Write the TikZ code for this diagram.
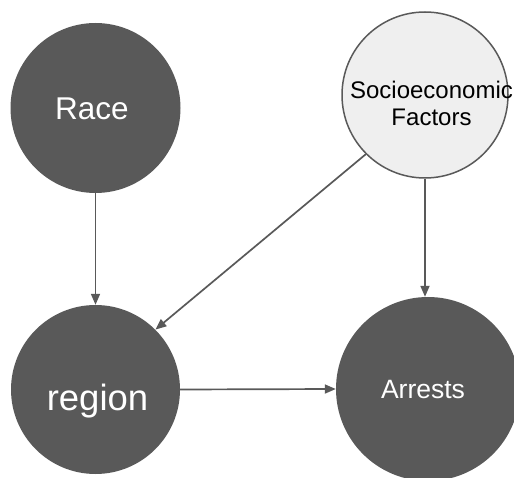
\documentclass[tikz,border=0pt]{standalone}
\usepackage{fontspec}
\setmainfont{Liberation Sans}
\usetikzlibrary{arrows.meta}
\definecolor{nodegray}{HTML}{595959}
\definecolor{lightfill}{HTML}{EFEFEF}
\begin{document}
\begin{tikzpicture}[x=1pt,y=-1pt,
  darknode/.style={circle,fill=nodegray,draw=none,inner sep=0pt},
  lightnode/.style={circle,fill=lightfill,draw=nodegray,line width=1.5pt,inner sep=0pt},
  lbl/.style={inner sep=0pt,align=center},
  edge/.style={draw=nodegray,line width=1.7pt,-{Triangle[length=11pt,width=9pt]}}]
  \useasboundingbox (0,0) rectangle (514,478);
  \begin{scope}
    \clip (0,0) rectangle (514,478);
    % variables
    \node[darknode,minimum size=170pt] (race) at (95.5,108) {};
    \node[lightnode,minimum size=166pt] (socio) at (425,95) {};
    \node[darknode,minimum size=169pt] (region) at (95.5,389.5) {};
    \node[darknode,minimum size=184pt] (arrests) at (428,389) {};
  \end{scope}
  % labels
  \node[lbl,text=white,font=\fontsize{31.5}{34}\selectfont] (raceT) at (92,109) {Race};
  \node[lbl,text=black,font=\fontsize{24}{27}\selectfont] (socioT) at (431.5,103) {Socioeconomic\\Factors};
  \node[lbl,text=white,font=\fontsize{36.5}{40}\selectfont] (regionT) at (97.5,401) {region};
  \node[lbl,text=white,font=\fontsize{26.5}{30}\selectfont] (arrestsT) at (423,390) {Arrests};
  % causal links
  \draw[edge] (race.south) -- (region.north);
  \draw[edge] (socio.225) -- (region.45);
  \draw[edge] (socio.south) -- (socio.south |- arrests.north);
  \draw[edge] (region.east) -- (arrests.west);
\end{tikzpicture}
\end{document}
